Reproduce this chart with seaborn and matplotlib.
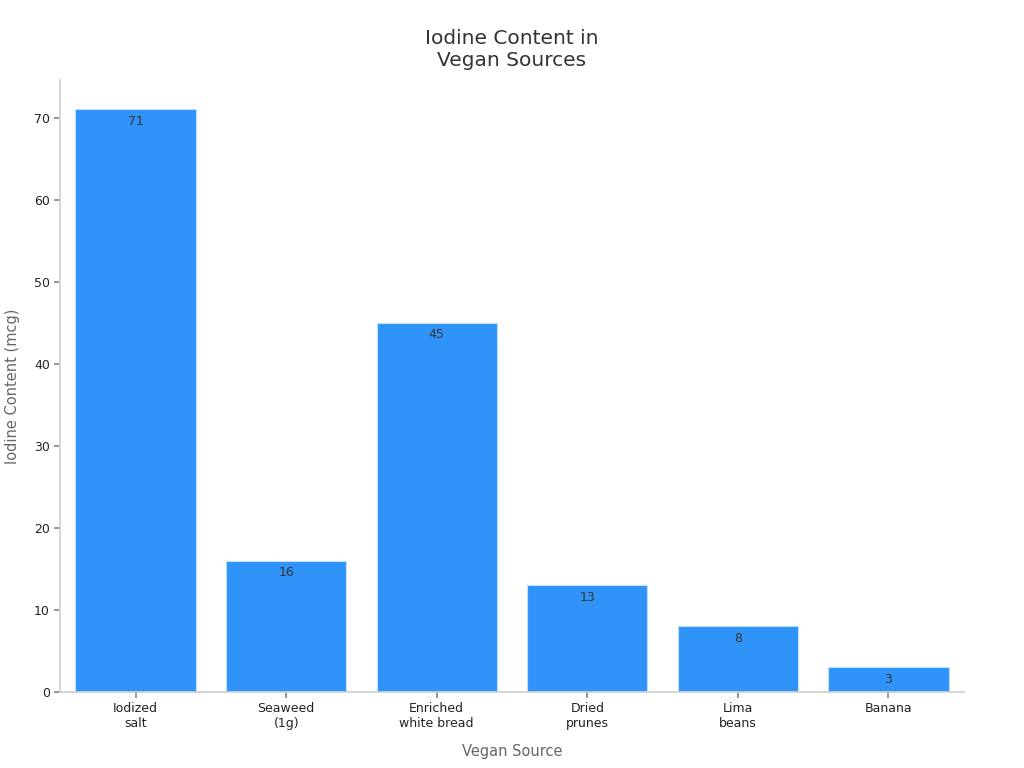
import matplotlib
matplotlib.use('Agg')
import matplotlib.pyplot as plt
import seaborn as sns
import pandas as pd

sources = ['Iodized\nsalt', 'Seaweed\n(1g)', 'Enriched\nwhite bread', 'Dried\nprunes', 'Lima\nbeans', 'Banana']
iodine = [71, 16, 45, 13, 8, 3]

df = pd.DataFrame({'source': sources, 'iodine': iodine})

sns.set_theme(style='ticks')
plt.rcParams['font.family'] = ['DejaVu Sans']

fig = plt.figure(figsize=(10.24, 7.68), dpi=100)
ax = fig.add_axes([0.059, 0.099, 0.882, 0.797])

sns.barplot(data=df, x='source', y='iodine', color='#2f93f8', saturation=1,
            edgecolor='#bfe0fc', linewidth=0.8, width=0.8, ax=ax)

# value labels just inside the top of each bar
for i, v in enumerate(iodine):
    ax.annotate(str(v), xy=(i, v), xytext=(0, -4), textcoords='offset points',
                ha='center', va='top', fontsize=9, color='#333333')

ax.set_xlim(-0.5, 5.5)
ax.set_ylim(0, 74.6)
ax.set_yticks([0, 10, 20, 30, 40, 50, 60, 70])
ax.tick_params(axis='both', labelsize=9, labelcolor='#222222', length=4, color='#888888')
for s in ['top', 'right']:
    ax.spines[s].set_visible(False)
for s in ['left', 'bottom']:
    ax.spines[s].set_color('#d0d0d0')

ax.set_xlabel('Vegan Source', fontsize=10.5, color='#666666', labelpad=10)
ax.set_ylabel('Iodine Content (mcg)', fontsize=10.5, color='#666666', labelpad=10)
ax.set_title('Iodine Content in\nVegan Sources', fontsize=14.5, color='#333333', pad=10)

fig.savefig('out.png', dpi=100)
